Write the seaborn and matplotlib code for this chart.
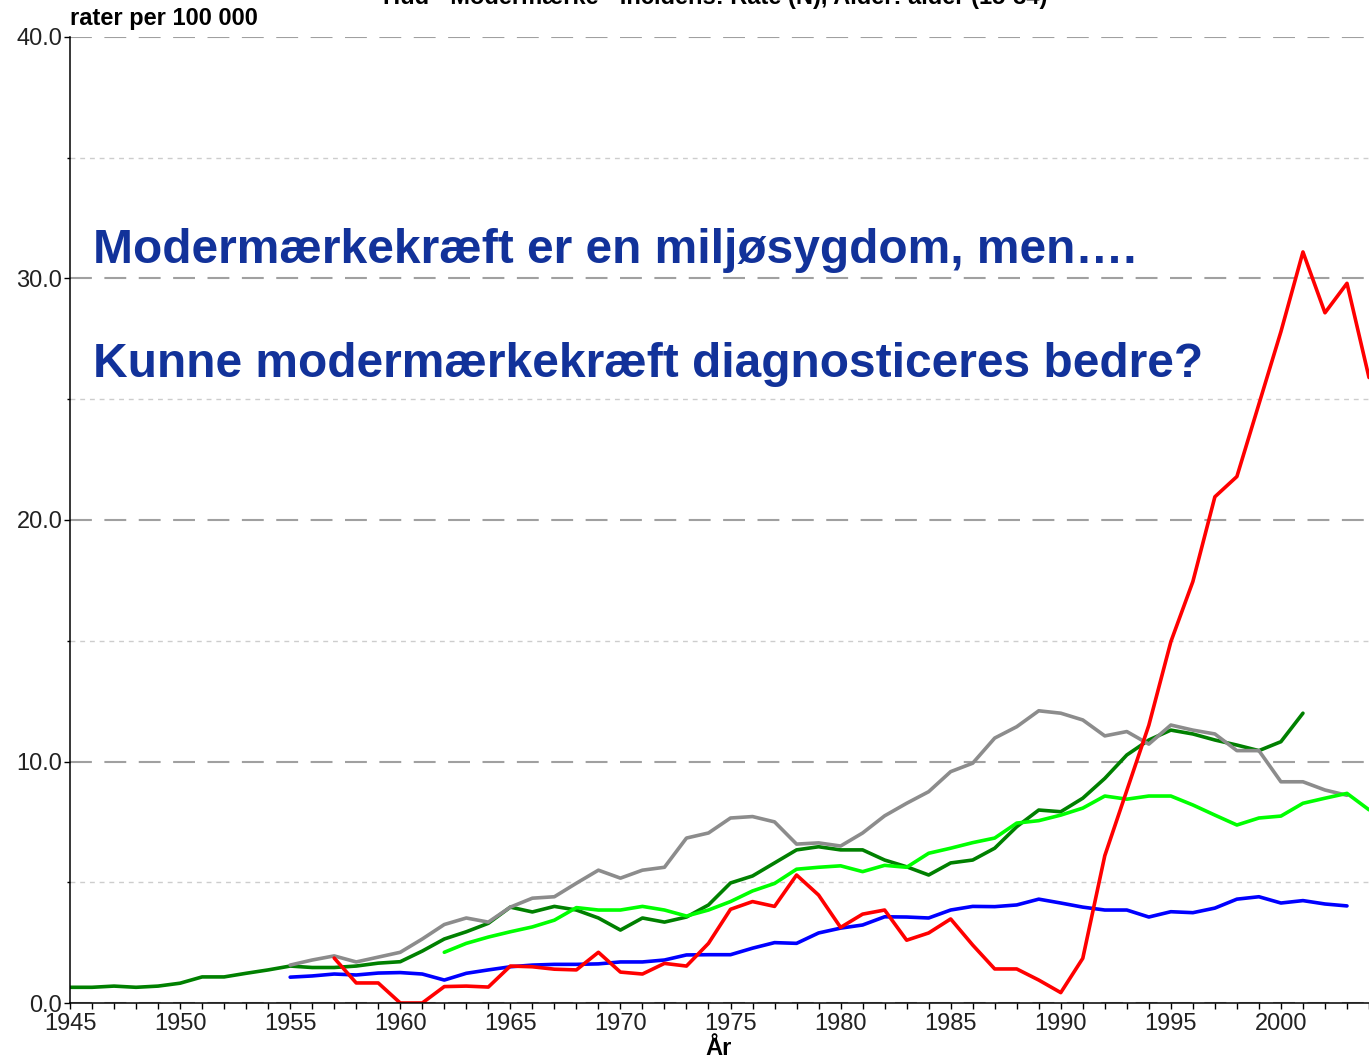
import matplotlib
matplotlib.use('Agg')
import matplotlib.pyplot as plt
from matplotlib.ticker import MultipleLocator, FormatStrFormatter
import pandas as pd
import seaborn as sns

### Data ###

# mørkegrøn serie, 1945-2001
green_dark_start = 1945
green_dark = [0.65, 0.65, 0.70, 0.65, 0.70, 0.82, 1.08, 1.08, 1.23, 1.37,
              1.53, 1.47, 1.47, 1.53, 1.65, 1.71, 2.15, 2.65, 2.95, 3.30,
              3.97, 3.77, 4.00, 3.85, 3.52, 3.02, 3.52, 3.35, 3.56, 4.06,
              4.97, 5.26, 5.80, 6.34, 6.47, 6.34, 6.34, 5.92, 5.64, 5.30,
              5.80, 5.92, 6.41, 7.30, 7.99, 7.92, 8.48, 9.30, 10.27, 10.89,
              11.30, 11.14, 10.89, 10.68, 10.45, 10.82, 12.00]

# grå serie, 1955-2003
grey_start = 1955
grey = [1.57, 1.78, 1.95, 1.70, 1.90, 2.10, 2.65, 3.25, 3.52, 3.35,
        3.97, 4.34, 4.40, 4.96, 5.50, 5.17, 5.50, 5.62, 6.83, 7.04,
        7.66, 7.72, 7.50, 6.58, 6.63, 6.50, 7.04, 7.75, 8.27, 8.75,
        9.58, 9.93, 10.97, 11.44, 12.10, 12.00, 11.72, 11.06, 11.24, 10.72,
        11.51, 11.30, 11.14, 10.45, 10.45, 9.16, 9.16, 8.82, 8.60]

# lysegrøn serie, 1962-2004
green_light_start = 1962
green_light = [2.10, 2.47, 2.73, 2.95, 3.15, 3.43, 3.95, 3.85, 3.85, 4.00,
               3.85, 3.60, 3.85, 4.20, 4.64, 4.95, 5.54, 5.62, 5.68, 5.44,
               5.70, 5.62, 6.20, 6.41, 6.64, 6.83, 7.45, 7.55, 7.78, 8.07,
               8.57, 8.44, 8.57, 8.57, 8.20, 7.78, 7.37, 7.66, 7.74, 8.27,
               8.48, 8.68, 8.00]

# blå serie, 1955-2003
blue_start = 1955
blue = [1.07, 1.12, 1.20, 1.16, 1.24, 1.26, 1.20, 0.95, 1.23, 1.37,
        1.50, 1.57, 1.60, 1.60, 1.62, 1.70, 1.70, 1.78, 1.99, 2.00,
        2.00, 2.27, 2.50, 2.47, 2.90, 3.10, 3.23, 3.57, 3.56, 3.52,
        3.85, 4.00, 3.99, 4.06, 4.30, 4.14, 3.97, 3.85, 3.85, 3.56,
        3.78, 3.74, 3.93, 4.30, 4.40, 4.14, 4.24, 4.10, 4.02]

# rød serie, 1957-2004
red_start = 1957
red = [1.86, 0.83, 0.83, 0.00, 0.00, 0.68, 0.70, 0.66, 1.53, 1.50,
       1.40, 1.37, 2.10, 1.28, 1.20, 1.64, 1.53, 2.47, 3.88, 4.20,
       4.00, 5.30, 4.47, 3.13, 3.68, 3.85, 2.60, 2.90, 3.48, 2.40,
       1.41, 1.41, 0.95, 0.43, 1.85, 6.10, 8.80, 11.50, 14.96, 17.45,
       20.96, 21.80, 24.80, 27.80, 31.10, 28.58, 29.80, 25.90]

series_names = ['moerkegroen', 'graa', 'lysegroen', 'blaa', 'roed']
series_colors = ['#008000', '#8C8C8C', '#00FF00', '#0000FF', '#FF0000']

title = 'Hud - Modermærke - Incidens: Rate (N), Alder: alder (15-34)'
y_label = 'rater per 100 000'
x_label = 'År'
line1 = 'Modermærkekræft er en miljøsygdom, men….'
line2 = 'Kunne modermærkekræft diagnosticeres bedre?'

# Lang tabel til seaborn
rows = []
for name, start, vals in zip(series_names,
                             [green_dark_start, grey_start, green_light_start, blue_start, red_start],
                             [green_dark, grey, green_light, blue, red]):
    for i, v in enumerate(vals):
        rows.append({'aar': start + i, 'rate': v, 'serie': name})
df = pd.DataFrame(rows)

### Figur ###
sns.set_style('white')
plt.rcParams['font.family'] = ['Liberation Sans', 'DejaVu Sans']

W, H = 1369, 1062
fig = plt.figure(figsize=(W / 100, H / 100), dpi=100)
ax = fig.add_axes([70 / W, 1 - 1003 / H, 1 - 70 / W, (1003 - 37) / H])

sns.lineplot(data=df, x='aar', y='rate', hue='serie', hue_order=series_names,
             palette=dict(zip(series_names, series_colors)), estimator=None,
             legend=False, lw=2.6, ax=ax)

ax.set_xlim(1945, 2004)
ax.set_ylim(0, 40)

# Gitterlinjer
ax.yaxis.set_major_locator(MultipleLocator(10))
ax.yaxis.set_minor_locator(MultipleLocator(5))
ax.yaxis.set_major_formatter(FormatStrFormatter('%.1f'))
ax.xaxis.set_major_locator(MultipleLocator(5))
ax.xaxis.set_minor_locator(MultipleLocator(1))
ax.set_axisbelow(True)
ax.grid(which='major', axis='y', color='#A0A0A0', lw=1.5, linestyle=(0, (10.5, 6)))
ax.grid(which='minor', axis='y', color='#CDCDCD', lw=1.0, linestyle=(0, (3.5, 3.5)))
ax.grid(which='major', axis='x', visible=False)

for side in ['top', 'right']:
    ax.spines[side].set_visible(False)
for side in ['left', 'bottom']:
    ax.spines[side].set_color('black')
    ax.spines[side].set_linewidth(1.1)

ax.tick_params(axis='x', which='both', direction='out', length=4, width=1,
               color='black', labelsize=17, labelcolor='#222222', pad=3, bottom=True)
ax.tick_params(axis='y', which='major', direction='out', length=4.5, width=1,
               color='black', labelsize=17, labelcolor='#222222', pad=1, left=True)
ax.tick_params(axis='y', which='minor', direction='out', length=2, width=1,
               color='black', left=True)
ax.set_xlabel('')
ax.set_ylabel('')

# Tekster
fig.text(715 / W, 1 - 4 / H, title, ha='center', va='baseline',
         fontsize=17, fontweight='bold', color='black')
fig.text(70 / W, 1 - 25 / H, y_label, ha='left', va='baseline',
         fontsize=17, fontweight='bold', color='black')
fig.text(719 / W, 1 - 1055 / H, x_label, ha='center', va='baseline',
         fontsize=17, fontweight='bold', color='black')

ax.text(93 / W, 1 - 263 / H, line1, transform=fig.transFigure, ha='left', va='baseline',
        fontsize=34.5, fontweight='bold', color='#12329A')
ax.text(93 / W, 1 - 377 / H, line2, transform=fig.transFigure, ha='left', va='baseline',
        fontsize=34.5, fontweight='bold', color='#12329A')

fig.savefig('out.png', dpi=100)
